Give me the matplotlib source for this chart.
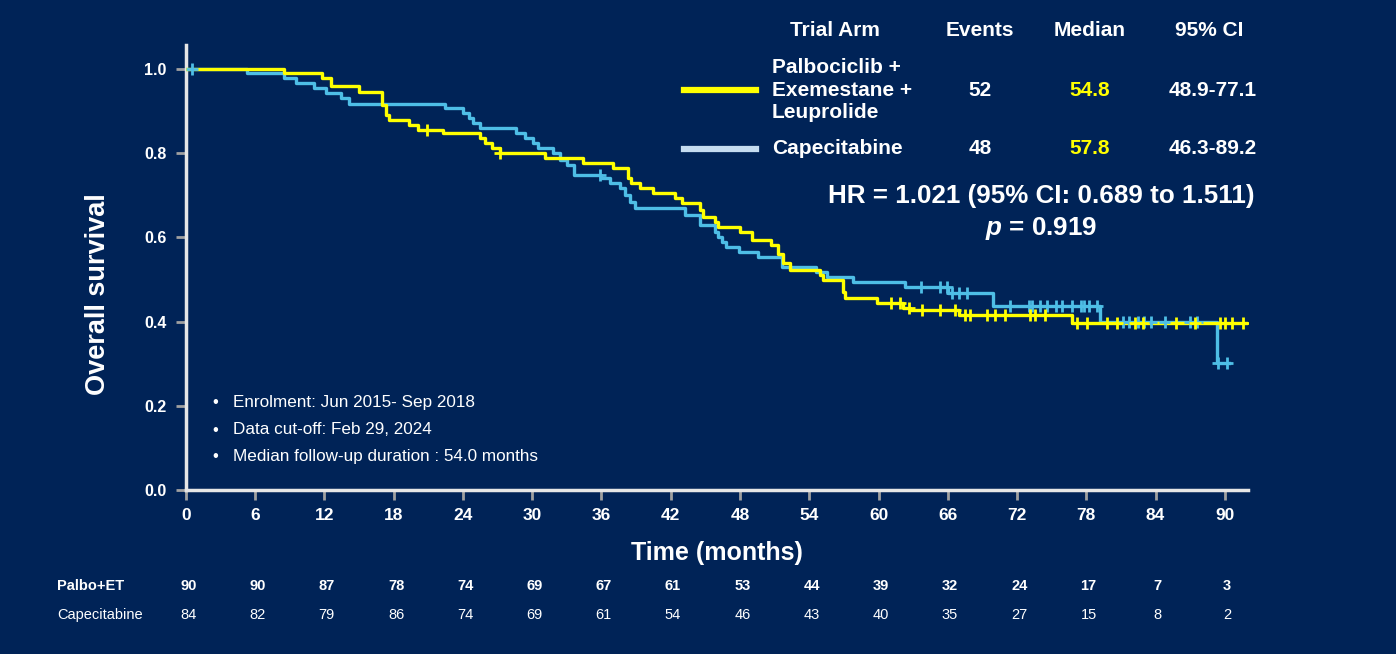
import numpy as np
import matplotlib.pyplot as plt
import matplotlib.transforms as mtransforms

plt.rcParams['font.family'] = ['Liberation Sans', 'DejaVu Sans']
plt.rcParams['mathtext.fontset'] = 'custom'
plt.rcParams['mathtext.it'] = 'Liberation Sans:italic:bold'

#################
# KM step data  #
#################
# Palbociclib + Exemestane + Leuprolide
palbo_t = [0, 8.5, 11.8, 12.6, 15.0, 17.0, 17.3, 17.6, 19.3, 20.1, 22.3, 25.5, 25.9,
           26.5, 27.2, 31.1, 34.4, 37.0, 38.3, 38.6, 39.3, 40.5, 42.4, 43.0, 44.5,
           44.8, 45.8, 46.1, 48.0, 49.0, 50.7, 51.3, 51.7, 52.3, 54.9, 55.2, 56.9,
           57.1, 59.9, 62.1, 62.7, 67.0, 76.8]
palbo_s = [1.0, 0.990, 0.978, 0.960, 0.946, 0.915, 0.891, 0.879, 0.867, 0.855, 0.847,
           0.835, 0.824, 0.812, 0.800, 0.788, 0.776, 0.764, 0.740, 0.728, 0.717, 0.705,
           0.693, 0.681, 0.665, 0.649, 0.637, 0.625, 0.613, 0.594, 0.582, 0.560, 0.538,
           0.523, 0.511, 0.499, 0.470, 0.455, 0.443, 0.432, 0.428, 0.416, 0.396]
palbo_end = 91.9
palbo_cens = [20.9, 27.2, 61.1, 61.9, 62.6, 63.8, 65.3, 66.6, 67.5, 67.9, 69.4, 70.1,
              71.0, 73.1, 73.6, 74.4, 77.2, 78.1, 79.8, 80.7, 82.2, 82.9, 85.8, 87.4,
              89.6, 90.0, 90.6, 91.6]

# Capecitabine
cape_t = [0, 5.3, 8.5, 9.5, 11.1, 12.1, 13.4, 14.1, 22.4, 24.0, 24.5, 24.9, 25.5, 28.6,
          29.4, 30.1, 30.5, 31.8, 32.4, 33.0, 33.6, 36.0, 36.7, 37.6, 38.0, 38.5, 38.9,
          43.2, 44.5, 45.8, 46.1, 46.4, 46.8, 47.9, 49.6, 51.6, 54.6, 55.5, 57.8, 62.3,
          66.0, 69.9, 79.2, 89.3]
cape_s = [1.0, 0.990, 0.978, 0.966, 0.954, 0.942, 0.930, 0.918, 0.907, 0.895, 0.883,
          0.871, 0.859, 0.847, 0.835, 0.824, 0.812, 0.800, 0.784, 0.772, 0.748, 0.740,
          0.729, 0.717, 0.701, 0.685, 0.669, 0.653, 0.629, 0.613, 0.601, 0.589, 0.577,
          0.565, 0.553, 0.530, 0.518, 0.506, 0.494, 0.482, 0.468, 0.437, 0.400, 0.302]
cape_end = 90.4
cape_cens = [0.5, 35.9, 63.7, 65.3, 65.9, 66.4, 67.0, 67.7, 71.4, 73.0, 73.3, 74.0, 74.6,
             75.4, 75.9, 76.8, 77.5, 77.8, 78.2, 78.9, 81.2, 81.7, 82.5, 83.0, 83.6,
             84.8, 87.0, 87.6, 89.4, 90.2]

##################
# Number at risk #
##################
risk_times = [0, 6, 12, 18, 24, 30, 36, 42, 48, 54, 60, 66, 72, 78, 84, 90]
risk_palbo = [90, 90, 87, 78, 74, 69, 67, 61, 53, 44, 39, 32, 24, 17, 7, 3]
risk_cape = [84, 82, 79, 86, 74, 69, 61, 54, 46, 43, 40, 35, 27, 15, 8, 2]

# legend table
headers = ['Trial Arm', 'Events', 'Median', '95% CI']
arm_names = ['Palbociclib +\nExemestane +\nLeuprolide', 'Capecitabine']
events = ['52', '48']
medians = ['54.8', '57.8']
cis = ['48.9-77.1', '46.3-89.2']
notes = ['Enrolment: Jun 2015- Sep 2018', 'Data cut-off: Feb 29, 2024',
         'Median follow-up duration : 54.0 months']

BG = '#002357'
YEL = '#FFFF00'
BLU = '#4EBEE6'

fig = plt.figure(figsize=(13.96, 6.54), dpi=100, facecolor=BG)
ax = fig.add_axes([0.1332, 0.2508, 0.7607, 0.6804])
ax.set_facecolor(BG)


def km(ax, t, s, end, cens, color):
    tt = list(t) + [end]
    ss = list(s) + [s[-1]]
    ax.step(tt, ss, where='post', color=color, lw=2.4, zorder=3)
    idx = np.searchsorted(t, cens, side='right') - 1
    cy = np.array(s)[idx]
    ax.plot(cens, cy, ls='none', marker='+', ms=8, mew=2, color=color, zorder=4)


km(ax, cape_t, cape_s, cape_end, cape_cens, BLU)
km(ax, palbo_t, palbo_s, palbo_end, palbo_cens, YEL)

ax.set_xlim(0, 92)
ax.set_ylim(0, 1.057)
for sp in ['top', 'right']:
    ax.spines[sp].set_visible(False)
for sp in ['left', 'bottom']:
    ax.spines[sp].set_color('#E6E6E6')
    ax.spines[sp].set_linewidth(2.5)
ax.set_xticks(risk_times)
ax.set_yticks(np.arange(0, 1.01, 0.2))
ax.set_yticklabels(['%.1f' % v for v in np.arange(0, 1.01, 0.2)])
ax.tick_params(axis='both', colors='#A0A0A0', length=7, width=2, direction='out')
ax.tick_params(axis='x', labelcolor='white', labelsize=12.5, pad=6)
ax.tick_params(axis='y', labelcolor='white', labelsize=11.5, pad=7)
for lab in ax.get_xticklabels() + ax.get_yticklabels():
    lab.set_fontweight('bold')

ax.set_xlabel('Time (months)', color='white', fontsize=18, fontweight='bold', labelpad=13)
fig.text(98 / 1396, 1 - 294 / 654, 'Overall survival', color='white', fontsize=19.5,
         fontweight='bold', rotation=90, ha='center', va='center')


# legend / summary table (figure pixel coords)
def fx(px):
    return px / 1396


def fy(py):
    return 1 - py / 654


hx = [835, 980, 1090, 1209]
for h, x in zip(headers, hx):
    fig.text(fx(x), fy(31), h, color='white', fontsize=15, fontweight='bold',
             ha='center', va='center')

row_y = [90, 149]
line_cols = [YEL, '#C5DCF0']
for i in range(2):
    fig.add_artist(plt.Line2D([fx(684), fx(756)], [fy(row_y[i])] * 2,
                              color=line_cols[i], lw=4.5))
    fig.text(fx(772), fy(row_y[i]), arm_names[i], color='white', fontsize=15,
             fontweight='bold', ha='left', va='center', linespacing=1.25)
    fig.text(fx(980), fy(row_y[i]), events[i], color='white', fontsize=15,
             fontweight='bold', ha='center', va='center')
    fig.text(fx(1090), fy(row_y[i]), medians[i], color=YEL, fontsize=15,
             fontweight='bold', ha='center', va='center')
    fig.text(fx(1213), fy(row_y[i]), cis[i], color='white', fontsize=15,
             fontweight='bold', ha='center', va='center')

fig.text(fx(1041), fy(196), 'HR = 1.021 (95% CI: 0.689 to 1.511)', color='white',
         fontsize=18.7, fontweight='bold', ha='center', va='center')
fig.text(fx(1041), fy(228), r'$p$ = 0.919', color='white',
         fontsize=18.7, fontweight='bold', ha='center', va='center')

for i, n in enumerate(notes):
    fig.text(fx(215), fy(403 + 27 * i), '\u2022', color='white', fontsize=12,
             ha='center', va='center')
    fig.text(fx(233), fy(403 + 27 * i), n, color='white', fontsize=12.3,
             ha='left', va='center')

# number at risk rows
trans = mtransforms.blended_transform_factory(ax.transData, fig.transFigure)
fig.text(fx(57), fy(586), 'Palbo+ET', color='white', fontsize=10.5, fontweight='bold',
         ha='left', va='center')
fig.text(fx(57), fy(615), 'Capecitabine', color='white', fontsize=10.5,
         ha='left', va='center')
for t, a, b in zip(risk_times, risk_palbo, risk_cape):
    ax.text(t + 0.2, fy(586), str(a), transform=trans, color='white', fontsize=10.5,
            fontweight='bold', ha='center', va='center', clip_on=False)
    ax.text(t + 0.2, fy(615), str(b), transform=trans, color='white', fontsize=10.5,
            ha='center', va='center', clip_on=False)

fig.savefig('out.png', dpi=100, facecolor=BG)
